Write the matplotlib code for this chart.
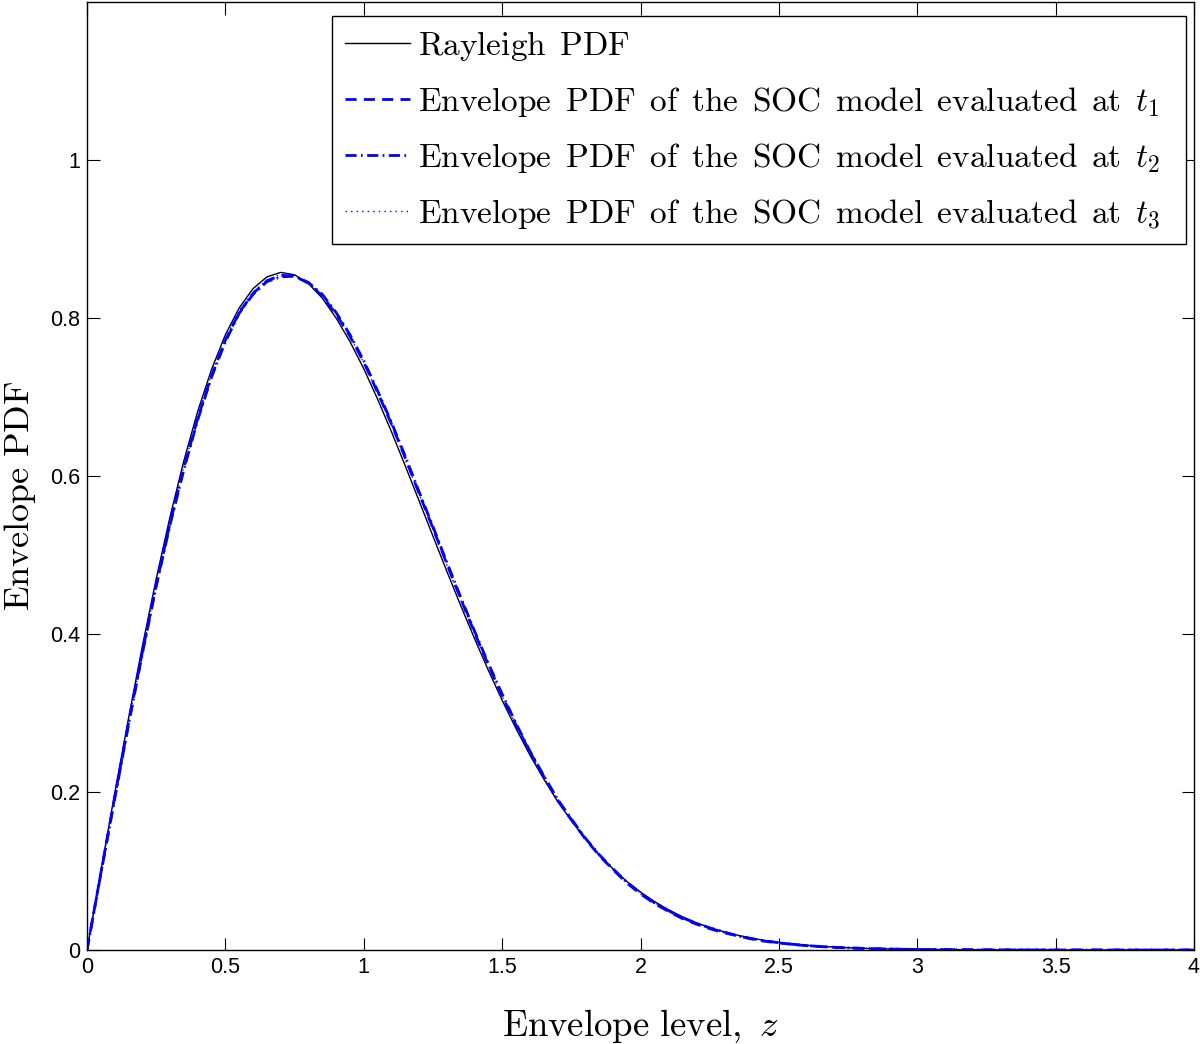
import numpy as np
import matplotlib
matplotlib.use("Agg")
import matplotlib.pyplot as plt

plt.rcParams['mathtext.fontset'] = 'cm'

# Envelope level grid
z = [0.00, 0.05, 0.10, 0.15, 0.20, 0.25, 0.30, 0.35, 0.40, 0.45,
     0.50, 0.55, 0.60, 0.65, 0.70, 0.75, 0.80, 0.85, 0.90, 0.95,
     1.00, 1.05, 1.10, 1.15, 1.20, 1.25, 1.30, 1.35, 1.40, 1.45,
     1.50, 1.55, 1.60, 1.65, 1.70, 1.75, 1.80, 1.85, 1.90, 1.95,
     2.00, 2.05, 2.10, 2.15, 2.20, 2.25, 2.30, 2.35, 2.40, 2.45,
     2.50, 2.55, 2.60, 2.65, 2.70, 2.75, 2.80, 2.85, 2.90, 2.95,
     3.00, 3.25, 3.50, 3.75, 4.00]

rayleigh = [0.0, 0.0998, 0.198, 0.2933, 0.3843, 0.4697, 0.5483, 0.6193, 0.6818, 0.7349,
            0.7788, 0.8128, 0.8372, 0.8520, 0.8577, 0.8547, 0.8437, 0.8252, 0.8000, 0.7703,
            0.7358, 0.6973, 0.6562, 0.6128, 0.5685, 0.5239, 0.4796, 0.4363, 0.3944, 0.3542,
            0.3162, 0.2804, 0.2470, 0.2167, 0.1883, 0.1637, 0.1410, 0.1208, 0.1028, 0.0870,
            0.0733, 0.0614, 0.0511, 0.0423, 0.0348, 0.0285, 0.0232, 0.0188, 0.0151, 0.0121,
            0.0097, 0.0077, 0.0060, 0.0047, 0.0037, 0.0029, 0.0022, 0.0017, 0.0013, 0.0010,
            0.0007, 0.0002, 0.0, 0.0, 0.0]

soc_t1 = [0.0, 0.097, 0.193, 0.287, 0.377, 0.462, 0.540, 0.610, 0.673, 0.727,
          0.772, 0.807, 0.831, 0.847, 0.854, 0.853, 0.844, 0.828, 0.805, 0.777,
          0.744, 0.706, 0.666, 0.623, 0.578, 0.534, 0.489, 0.445, 0.402, 0.361,
          0.322, 0.285, 0.251, 0.220, 0.190, 0.165, 0.141, 0.120, 0.102, 0.085,
          0.071, 0.059, 0.049, 0.040, 0.033, 0.027, 0.022, 0.018, 0.014, 0.011,
          0.009, 0.007, 0.0055, 0.0043, 0.0034, 0.0026, 0.0020, 0.0016, 0.0012, 0.0009,
          0.0007, 0.0002, 0.0, 0.0, 0.0]

soc_t2 = [0.0, 0.096, 0.191, 0.285, 0.375, 0.460, 0.538, 0.608, 0.671, 0.725,
          0.770, 0.806, 0.830, 0.846, 0.852, 0.853, 0.845, 0.830, 0.807, 0.779,
          0.746, 0.708, 0.668, 0.625, 0.580, 0.536, 0.491, 0.447, 0.404, 0.363,
          0.324, 0.287, 0.252, 0.221, 0.191, 0.166, 0.142, 0.121, 0.103, 0.086,
          0.072, 0.060, 0.050, 0.041, 0.034, 0.028, 0.023, 0.018, 0.0145, 0.0115,
          0.0092, 0.0072, 0.0056, 0.0044, 0.0034, 0.0027, 0.0021, 0.0016, 0.0012, 0.0009,
          0.0007, 0.0002, 0.0, 0.0, 0.0]

soc_t3 = [0.0, 0.098, 0.194, 0.288, 0.378, 0.463, 0.541, 0.612, 0.675, 0.729,
          0.774, 0.809, 0.833, 0.848, 0.855, 0.854, 0.845, 0.829, 0.805, 0.777,
          0.743, 0.705, 0.665, 0.621, 0.577, 0.532, 0.487, 0.443, 0.401, 0.360,
          0.321, 0.285, 0.251, 0.219, 0.190, 0.165, 0.141, 0.120, 0.102, 0.086,
          0.072, 0.060, 0.050, 0.041, 0.034, 0.028, 0.022, 0.018, 0.0145, 0.0117,
          0.0093, 0.0074, 0.0058, 0.0045, 0.0035, 0.0028, 0.0021, 0.0016, 0.0012, 0.0009,
          0.0007, 0.0002, 0.0, 0.0, 0.0]

labels = [r'$\mathrm{Rayleigh\ \,PDF}$',
          r'$\mathrm{Envelope\ \,PDF\ \,of\ \,the\ \,SOC\ \,model\ \,evaluated\ \,at}\ \,t_1$',
          r'$\mathrm{Envelope\ \,PDF\ \,of\ \,the\ \,SOC\ \,model\ \,evaluated\ \,at}\ \,t_2$',
          r'$\mathrm{Envelope\ \,PDF\ \,of\ \,the\ \,SOC\ \,model\ \,evaluated\ \,at}\ \,t_3$']

xticks = [0, 0.5, 1, 1.5, 2, 2.5, 3, 3.5, 4]
xticklabels = ['0', '0.5', '1', '1.5', '2', '2.5', '3', '3.5', '4']
yticks = [0, 0.2, 0.4, 0.6, 0.8, 1.0]
yticklabels = ['0', '0.2', '0.4', '0.6', '0.8', '1']

W, H = 1200, 1044
L, R, B, T = 87, 1194, 950, 2
fig = plt.figure(figsize=(W / 100, H / 100), dpi=100)
ax = fig.add_axes([L / W, (H - B) / H, (R - L) / W, (B - T) / H])

ax.plot(z, rayleigh, color='black', lw=1.0, label=labels[0])
ax.plot(z, soc_t1, color=(0, 0, 1), lw=2.0, dashes=(4, 2.6), label=labels[1])
ax.plot(z, soc_t2, color=(0, 0, 1), lw=2.0, dashes=(4, 1.6, 0.6, 1.6), label=labels[2])
ax.plot(z, soc_t3, color=(0, 0, 1), lw=1.0, dashes=(1, 3), label=labels[3])

ax.set_xlim(0, 4)
ax.set_ylim(0, 1.2)
ax.set_xticks(xticks)
ax.set_xticklabels(xticklabels, fontfamily='Liberation Sans', fontsize=15.5)
ax.set_yticks(yticks)
ax.set_yticklabels(yticklabels, fontfamily='Liberation Sans', fontsize=15.5)
ax.tick_params(direction='in', top=True, right=True, length=9, width=0.8, pad=5)
for s in ax.spines.values():
    s.set_linewidth(1.0)

ax.set_xlabel(r'$\mathrm{Envelope\ level,}\ z$', fontsize=26.5)
ax.set_ylabel(r'$\mathrm{Envelope\ PDF}$', fontsize=26)
ax.xaxis.set_label_coords((640 - L) / (R - L), -(1036 - B) / (B - T), transform=ax.transAxes)
ax.xaxis.label.set_va('baseline')
ax.yaxis.set_label_coords(-(87 - 2) / (R - L), (B - 496) / (B - T))
ax.yaxis.label.set_va('top')

lx0, lx1, ly0, ly1 = 332, 1186, 242, 16
leg = ax.legend(loc='upper left', mode='expand',
                bbox_to_anchor=((lx0 - L) / (R - L), (B - ly1) / (B - T),
                                (lx1 - lx0) / (R - L), 0.0),
                fontsize=24, frameon=True, fancybox=False,
                edgecolor='black', framealpha=1, handlelength=1.95, handletextpad=0.24,
                borderpad=0.39, labelspacing=0.66, borderaxespad=0.0)
leg.get_frame().set_linewidth(1.0)

fig.savefig('out.png', dpi=100, facecolor='white')
